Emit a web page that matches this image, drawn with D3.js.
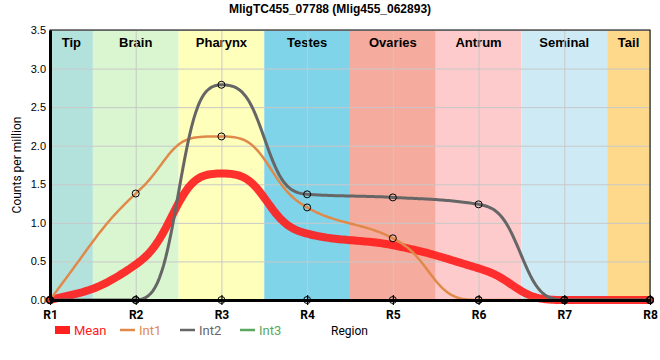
<!DOCTYPE html>
<html>
<head>
<meta charset="utf-8">
<style>
  body { margin: 0; background: #fff; }
  svg { font-family: "Liberation Sans", Arial, sans-serif; }
  .band-label { font-size: 13px; font-weight: bold; }
  .grid line { stroke: #c8c8c8; stroke-width: 1; }
  .grid path { display: none; }
</style>
</head>
<body>
<div id="chart"></div>
<script src="https://d3js.org/d3.v7.min.js"></script>
<script>
// regions along the body
var regions = ["R1", "R2", "R3", "R4", "R5", "R6", "R7", "R8"];
var bandNames = ["Tip", "Brain", "Pharynx", "Testes", "Ovaries", "Antrum", "Seminal", "Tail"];
var bandStart = [0, 0.5, 1.5, 2.5, 3.5, 4.5, 5.5, 6.5];
var bandEnd   = [0.5, 1.5, 2.5, 3.5, 4.5, 5.5, 6.5, 7];
var bandColors = ["#b3e2dd", "#d9f6d1", "#ffffbc", "#7fd4ea", "#f5ab9d", "#fdcbcb", "#ceebf5", "#fed98b"];

// counts per million at each region
var mean = [0, 0.46, 1.64, 0.86, 0.71, 0.41, 0, 0];
var int1 = [0, 1.38, 2.12, 1.20, 0.80, 0, 0, 0];
var int2 = [0, 0, 2.79, 1.37, 1.33, 1.24, 0, 0];
var int3 = [0, 0, 0, 0, 0, 0, 0, 0];
var yTicks = [0, 0.5, 1, 1.5, 2, 2.5, 3, 3.5];

var series = [
  {name: "Mean", values: mean, color: "#ff2020", width: 8, opacity: 0.92, dots: false},
  {name: "Int1", values: int1, color: "#e0894a", width: 2.5, opacity: 1, dots: true},
  {name: "Int2", values: int2, color: "#666666", width: 3, opacity: 1, dots: true},
  {name: "Int3", values: int3, color: "#5aa860", width: 2, opacity: 1, dots: true}
];

var W = 660, H = 360;
var m = {top: 30, right: 10, bottom: 60, left: 50};
var w = W - m.left - m.right, h = H - m.top - m.bottom;

var svg = d3.select("#chart").append("svg").attr("width", W).attr("height", H);

svg.append("text")
  .attr("x", W / 2).attr("y", 13)
  .attr("text-anchor", "middle")
  .style("font-size", "12px").style("font-weight", "bold")
  .text("MligTC455_07788 (Mlig455_062893)");

var g = svg.append("g").attr("transform", "translate(" + m.left + "," + m.top + ")");

var x = d3.scaleLinear().domain([0, regions.length - 1]).range([0, w]);
var y = d3.scaleLinear().domain([0, 3.5]).range([h, 0]);

// body region bands
g.selectAll(".band").data(bandNames).enter().append("rect")
  .attr("x", function(d, i) { return x(bandStart[i]); })
  .attr("width", function(d, i) { return x(bandEnd[i]) - x(bandStart[i]); })
  .attr("y", 0).attr("height", h)
  .attr("fill", function(d, i) { return bandColors[i]; });

g.selectAll(".band-label").data(bandNames).enter().append("text")
  .attr("class", "band-label")
  .attr("x", function(d, i) { return x((bandStart[i] + bandEnd[i]) / 2); })
  .attr("y", 17)
  .attr("text-anchor", "middle")
  .text(function(d) { return d; });

// grid
g.append("g").attr("class", "grid")
  .call(d3.axisLeft(y).tickValues(yTicks).tickSize(-w).tickFormat(""));
g.append("g").attr("class", "grid")
  .call(d3.axisBottom(x).ticks(7).tickSize(h).tickFormat(""));

// frame
g.append("rect").attr("width", w).attr("height", h)
  .attr("fill", "none").attr("stroke", "#000").attr("stroke-width", 1);

// monotone hermite spline; where a segment ends flat the parameter is warped,
// so the curve sits flatter near the region and changes faster at the band border
var WARP = 0.5;
function smoothPoints(vals) {
  var n = vals.length, sl = [];
  function sign(v) { return v < 0 ? -1 : 1; }
  for (var i = 1; i < n - 1; i++) {
    var s0 = vals[i] - vals[i - 1], s1 = vals[i + 1] - vals[i], p = (s0 + s1) / 2;
    sl[i] = (sign(s0) + sign(s1)) * Math.min(Math.abs(s0), Math.abs(s1), 0.5 * Math.abs(p)) || 0;
  }
  sl[0] = (3 * (vals[1] - vals[0]) - sl[1]) / 2;
  sl[n - 1] = (3 * (vals[n - 1] - vals[n - 2]) - sl[n - 2]) / 2;
  var pts = [[0, vals[0]]];
  for (var k = 0; k < n - 1; k++) {
    var y0 = vals[k], y1 = vals[k + 1], dlt = y1 - y0, kw = 0, m0 = 0, m1 = 0;
    if (dlt !== 0) {
      var flat = Math.min(Math.abs(sl[k]), Math.abs(sl[k + 1])) / Math.abs(dlt);
      kw = WARP * Math.max(0, 1 - flat);
      m0 = sl[k] / (1 - kw); m1 = sl[k + 1] / (1 - kw);
      var a = m0 / dlt, b = m1 / dlt, r = a * a + b * b;
      if (r > 9) { var tau = 3 / Math.sqrt(r); m0 *= tau; m1 *= tau; }
    }
    for (var j = 1; j <= 40; j++) {
      var t = j / 40;
      var u = t - kw * Math.sin(2 * Math.PI * t) / (2 * Math.PI);
      var u2 = u * u, u3 = u2 * u;
      var v = (2 * u3 - 3 * u2 + 1) * y0 + (u3 - 2 * u2 + u) * m0 +
              (-2 * u3 + 3 * u2) * y1 + (u3 - u2) * m1;
      pts.push([k + t, v]);
    }
  }
  return pts;
}

var line = d3.line()
  .x(function(d) { return x(d[0]); })
  .y(function(d) { return y(d[1]); });

series.forEach(function(s) {
  g.append("path")
    .attr("d", line(smoothPoints(s.values)))
    .attr("fill", "none")
    .attr("stroke", s.color)
    .attr("stroke-width", s.width)
    .attr("stroke-opacity", s.opacity)
    .attr("stroke-linejoin", "round")
    .attr("stroke-linecap", "round");
});

// axes
var yAxis = g.append("g")
  .call(d3.axisLeft(y).tickValues(yTicks).tickFormat(d3.format(".1f")).tickSize(0).tickPadding(4));
yAxis.select(".domain").attr("stroke-width", 3);
yAxis.selectAll("text").style("font-size", "11px").style("font-family", "Liberation Sans, Arial, sans-serif");

var xAxis = g.append("g").attr("transform", "translate(0," + h + ")")
  .call(d3.axisBottom(x).ticks(7).tickFormat(function(d) { return regions[d]; }).tickSizeInner(5).tickSizeOuter(0).tickPadding(5));
xAxis.select(".domain").attr("stroke-width", 3);
xAxis.selectAll(".tick line").attr("y1", -5).attr("stroke-width", 1.2);
xAxis.selectAll("text").style("font-size", "12px").style("font-weight", "bold").style("font-family", "Roboto, sans-serif");

// dots
series.filter(function(s) { return s.dots; }).forEach(function(s) {
  g.selectAll(null).data(s.values).enter().append("circle")
    .attr("cx", function(d, i) { return x(i); })
    .attr("cy", function(d) { return y(d); })
    .attr("r", 3.5)
    .attr("fill", "none")
    .attr("stroke", "#000")
    .attr("stroke-width", 1);
});

// legend
var legendX = [55, 120, 180, 240];
var leg = svg.append("g").attr("transform", "translate(0,330)");
series.forEach(function(s, i) {
  if (s.name === "Mean") {
    leg.append("rect").attr("x", legendX[i]).attr("y", -4).attr("width", 15).attr("height", 8)
      .attr("fill", s.color);
  } else {
    leg.append("line").attr("x1", legendX[i]).attr("x2", legendX[i] + 15)
      .attr("stroke", s.color).attr("stroke-width", 2.5);
  }
  leg.append("text").attr("x", legendX[i] + 19).attr("y", 5)
    .style("font-size", "13px").style("font-family", "Roboto, sans-serif")
    .attr("fill", s.color).text(s.name);
});

svg.append("text").attr("x", 331).attr("y", 335)
  .style("font-size", "12px").style("font-family", "Roboto, sans-serif")
  .text("Region");

svg.append("text")
  .attr("transform", "translate(21," + (m.top + h / 2) + ") rotate(-90)")
  .attr("text-anchor", "middle")
  .style("font-size", "12px").style("font-family", "Roboto, sans-serif")
  .text("Counts per million");
</script>
</body>
</html>
